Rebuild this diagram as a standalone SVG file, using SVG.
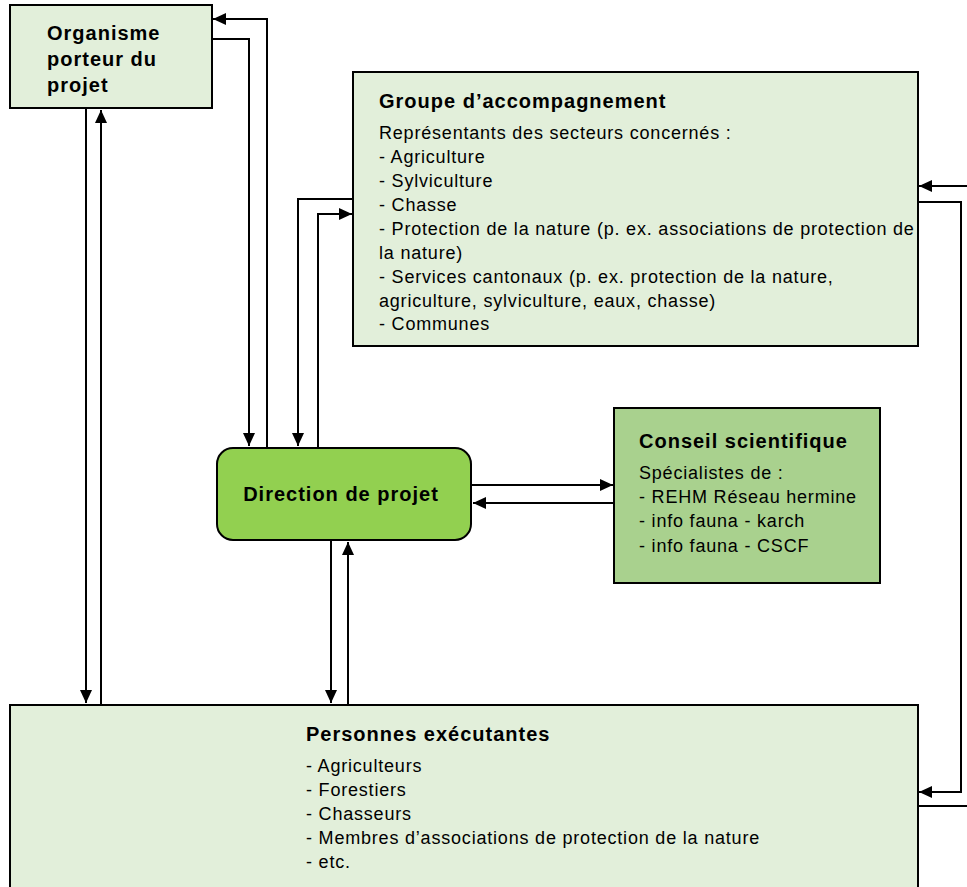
<svg xmlns="http://www.w3.org/2000/svg" width="967" height="887" viewBox="0 0 967 887">
<defs>
<style>
.box{fill:#e2efda;stroke:#000;stroke-width:2}
.dir{fill:#92d050;stroke:#000;stroke-width:2}
.cs{fill:#a9d18e;stroke:#000;stroke-width:2}
.t{font-family:"Liberation Sans",Arial,sans-serif;font-size:20px;font-weight:bold;fill:#000;letter-spacing:1px}
.b{font-family:"Liberation Sans",Arial,sans-serif;font-size:18px;fill:#000;letter-spacing:0.8px}
.c{fill:none;stroke:#000;stroke-width:2}
</style>
<marker id="ah" markerWidth="13" markerHeight="12" refX="13" refY="6" orient="auto" markerUnits="userSpaceOnUse">
<path d="M0,0 L13,6 L0,12 Z" fill="#000"/>
</marker>
</defs>
<rect width="967" height="887" fill="#fff"/>
<g id="connectors">
<path class="c" d="M267,447 V19 H213" marker-end="url(#ah)"/>
<path class="c" d="M212,39 H249 V446" marker-end="url(#ah)"/>
<path class="c" d="M353,199 H298 V446" marker-end="url(#ah)"/>
<path class="c" d="M318,447 V214 H352" marker-end="url(#ah)"/>
<path class="c" d="M86,108 V703" marker-end="url(#ah)"/>
<path class="c" d="M101,705 V110" marker-end="url(#ah)"/>
<path class="c" d="M472,485 H613" marker-end="url(#ah)"/>
<path class="c" d="M614,503 H473" marker-end="url(#ah)"/>
<path class="c" d="M331,540 V703" marker-end="url(#ah)"/>
<path class="c" d="M348,705 V542" marker-end="url(#ah)"/>
<path class="c" d="M967,186 H919" marker-end="url(#ah)"/>
<path class="c" d="M918,202 H961 V792 H919" marker-end="url(#ah)"/>
<path class="c" d="M918,806 H967"/>
</g>
<g id="organisme">
<rect class="box" x="10" y="5" width="202" height="103"/>
<text class="t" x="47" y="40">Organisme</text>
<text class="t" x="47" y="66">porteur du</text>
<text class="t" x="47" y="92">projet</text>
</g>
<g id="groupe">
<rect class="box" x="353" y="72" width="565" height="274"/>
<text class="t" x="379" y="108">Groupe d’accompagnement</text>
<text class="b" x="379" y="139">Représentants des secteurs concernés :</text>
<text class="b" x="379" y="163">- Agriculture</text>
<text class="b" x="379" y="187">- Sylviculture</text>
<text class="b" x="379" y="211">- Chasse</text>
<text class="b" x="379" y="235">- Protection de la nature (p. ex. associations de protection de</text>
<text class="b" x="379" y="259">la nature)</text>
<text class="b" x="379" y="283">- Services cantonaux (p. ex. protection de la nature,</text>
<text class="b" x="379" y="307">agriculture, sylviculture, eaux, chasse)</text>
<text class="b" x="379" y="330">- Communes</text>
</g>
<g id="direction">
<rect class="dir" x="217" y="448" width="254" height="92" rx="16"/>
<text class="t" x="341" y="501" text-anchor="middle">Direction de projet</text>
</g>
<g id="conseil">
<rect class="cs" x="614" y="408" width="266" height="175"/>
<text class="t" x="639" y="448">Conseil scientifique</text>
<text class="b" x="639" y="479">Spécialistes de :</text>
<text class="b" x="639" y="503">- REHM Réseau hermine</text>
<text class="b" x="639" y="527">- info fauna - karch</text>
<text class="b" x="639" y="552">- info fauna - CSCF</text>
</g>
<g id="personnes">
<rect class="box" x="10" y="705" width="908" height="190"/>
<text class="t" x="306" y="741">Personnes exécutantes</text>
<text class="b" x="306" y="772">- Agriculteurs</text>
<text class="b" x="306" y="796">- Forestiers</text>
<text class="b" x="306" y="820">- Chasseurs</text>
<text class="b" x="306" y="844">- Membres d’associations de protection de la nature</text>
<text class="b" x="306" y="868">- etc.</text>
</g>
</svg>
